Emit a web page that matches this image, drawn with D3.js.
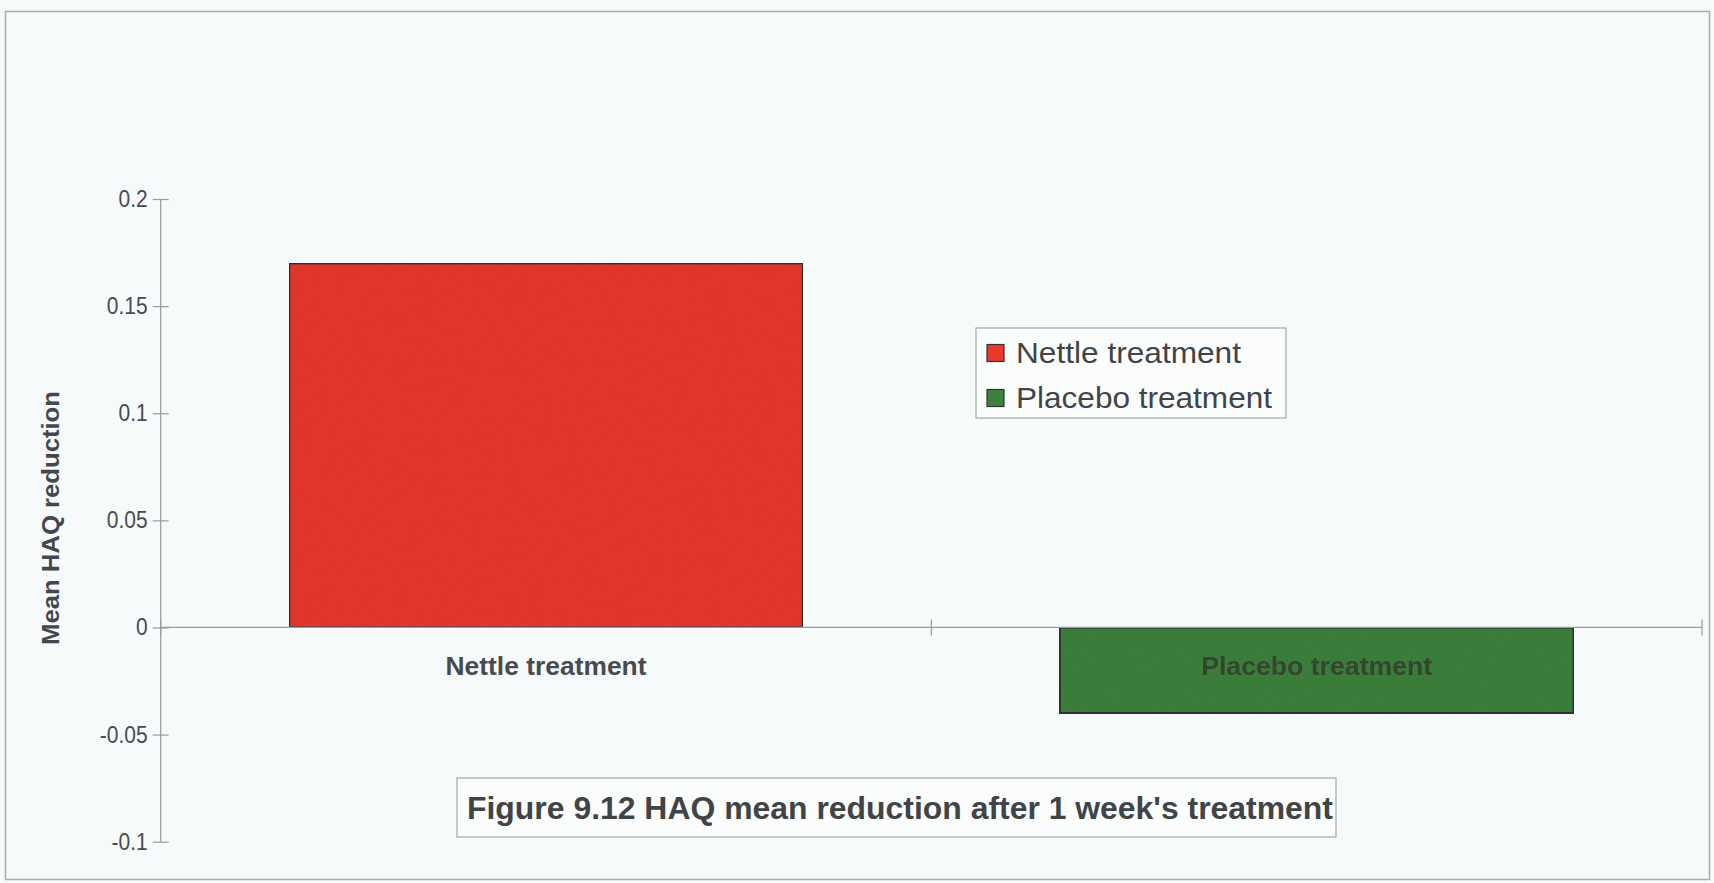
<!DOCTYPE html>
<html>
<head>
<meta charset="utf-8">
<script src="https://cdn.jsdelivr.net/npm/d3@7"></script>
<style>
  html, body { margin: 0; padding: 0; background: #f6fafb; }
  svg { display: block; }
  text { font-family: "Liberation Sans", Arial, sans-serif; }
</style>
</head>
<body>
<script>
// Chart data
const categories = ["Nettle treatment", "Placebo treatment"];
const meanReduction = [0.17, -0.04];
const seriesNames = ["Nettle treatment", "Placebo treatment"];
const yTickValues = [-0.1, -0.05, 0, 0.05, 0.1, 0.15, 0.2];
const yTitle = "Mean HAQ reduction";
const caption = "Figure 9.12 HAQ mean reduction after 1 week's treatment";

const W = 1714, H = 883;
const barColors = ["#e9392e", "#3c813e"];

const svg = d3.select("body").append("svg")
  .attr("width", W).attr("height", H);

// grain for the bar fills
const defs = svg.append("defs");
const grain = defs.append("filter").attr("id", "grain")
  .attr("x", 0).attr("y", 0).attr("width", 1).attr("height", 1);
grain.append("feTurbulence").attr("type", "fractalNoise")
  .attr("baseFrequency", 0.9).attr("numOctaves", 2).attr("seed", 3).attr("result", "noise");
grain.append("feColorMatrix").attr("in", "noise").attr("type", "matrix")
  .attr("values", "0 0 0 0 0  0 0 0 0 0  0 0 0 0 0  0 0 0 0.15 0").attr("result", "dots");
grain.append("feComposite").attr("in", "dots").attr("in2", "SourceGraphic").attr("operator", "in").attr("result", "dotsIn");
grain.append("feMerge").selectAll("feMergeNode").data(["SourceGraphic", "dotsIn"]).join("feMergeNode").attr("in", d => d);

// outer frame
svg.append("rect")
  .attr("x", 5.5).attr("y", 11.5).attr("width", 1704).attr("height", 868)
  .attr("fill", "#f6fafb").attr("stroke", "#a9acad").attr("stroke-width", 1.5);

const plot = { left: 160.7, right: 1702, top: 199, bottom: 841.7 };

const y = d3.scaleLinear().domain([-0.1, 0.2]).range([plot.bottom, plot.top]);
const x = d3.scaleBand().domain(categories)
  .range([plot.left, plot.right]).paddingInner(1 / 3).paddingOuter(1 / 6);

const fmt = d => String(+d.toFixed(2));

// y axis
const yAxis = svg.append("g").attr("transform", `translate(${plot.left},0)`)
  .call(d3.axisLeft(y).tickValues(yTickValues).tickFormat(fmt).tickSize(8));
yAxis.select(".domain").attr("stroke", "#9a9c9d").attr("stroke-width", 1.2).attr("d", `M0,${plot.top}V${plot.bottom}`);
yAxis.selectAll(".tick line").attr("stroke", "#9a9c9d").attr("stroke-width", 1.2).attr("x1", 8).attr("x2", -8);
yAxis.selectAll(".tick text").attr("font-size", 21).attr("fill", "#484b4e").attr("x", -13)
  .attr("transform", "scale(1,1.12)")
  .style("font-family", "'Liberation Sans', Arial, sans-serif");

// bars
svg.append("g").selectAll("rect").data(categories).join("rect")
  .attr("x", d => x(d))
  .attr("width", x.bandwidth())
  .attr("y", (d, i) => y(Math.max(0, meanReduction[i])))
  .attr("height", (d, i) => Math.abs(y(meanReduction[i]) - y(0)))
  .attr("fill", (d, i) => barColors[i])
  .attr("stroke", "#333")
  .attr("stroke-width", 2.2)
  .attr("filter", "url(#grain)");

// x axis at zero with category boundary ticks
const xAxisG = svg.append("g").attr("transform", `translate(0,${y(0)})`);
xAxisG.append("line").attr("x1", plot.left).attr("x2", plot.right)
  .attr("stroke", "#9a9c9d").attr("stroke-width", 1.2);
const boundaries = [plot.left, ...categories.slice(1).map(c => x(c) - x.step() * x.paddingInner() / 2), plot.right];
xAxisG.selectAll("line.tick").data(boundaries).join("line").attr("class", "tick")
  .attr("x1", d => d).attr("x2", d => d).attr("y1", -8).attr("y2", 8)
  .attr("stroke", "#9a9c9d").attr("stroke-width", 1.2);

// category labels
svg.append("g").selectAll("text").data(categories).join("text")
  .attr("x", d => x(d) + x.bandwidth() / 2)
  .attr("y", y(0) + 48)
  .attr("text-anchor", "middle")
  .attr("font-size", 25).attr("font-weight", "bold")
  .attr("fill", (d, i) => i === 0 ? "#474b50" : "#33392c")
  .attr("opacity", (d, i) => i === 0 ? 1 : 0.8)
  .attr("textLength", (d, i) => i === 0 ? 201 : 231)
  .attr("lengthAdjust", "spacingAndGlyphs")
  .text(d => d);

// y axis title
svg.append("text")
  .attr("transform", `translate(59,518) rotate(-90)`)
  .attr("text-anchor", "middle")
  .attr("font-size", 24).attr("font-weight", "bold").attr("fill", "#44484c")
  .attr("textLength", 254).attr("lengthAdjust", "spacingAndGlyphs")
  .text(yTitle);

// legend
const legend = svg.append("g").attr("transform", "translate(976,328)");
legend.append("rect").attr("width", 310).attr("height", 90)
  .attr("fill", "#fbfdfd").attr("stroke", "#a6a9aa").attr("stroke-width", 1.2);
const rows = legend.selectAll("g.row").data(seriesNames).join("g").attr("class", "row")
  .attr("transform", (d, i) => `translate(0,${25 + i * 45})`);
rows.append("rect").attr("x", 11).attr("y", -8.5).attr("width", 17).attr("height", 17)
  .attr("fill", (d, i) => barColors[i]).attr("stroke", "#333").attr("stroke-width", 1.2);
rows.append("text").attr("x", 40).attr("y", 10)
  .attr("font-size", 30).attr("fill", "#414447")
  .attr("textLength", (d, i) => i === 0 ? 225 : 256).attr("lengthAdjust", "spacingAndGlyphs")
  .text(d => d);

// caption box
const cap = svg.append("g").attr("transform", "translate(457,778)");
cap.append("rect").attr("width", 879).attr("height", 59)
  .attr("fill", "#fbfdfd").attr("stroke", "#a6a9aa").attr("stroke-width", 1.2);
cap.append("text").attr("x", 10).attr("y", 41)
  .attr("font-size", 31).attr("font-weight", "bold").attr("fill", "#414447")
  .attr("textLength", 866).attr("lengthAdjust", "spacingAndGlyphs")
  .text(caption);
</script>
</body>
</html>
